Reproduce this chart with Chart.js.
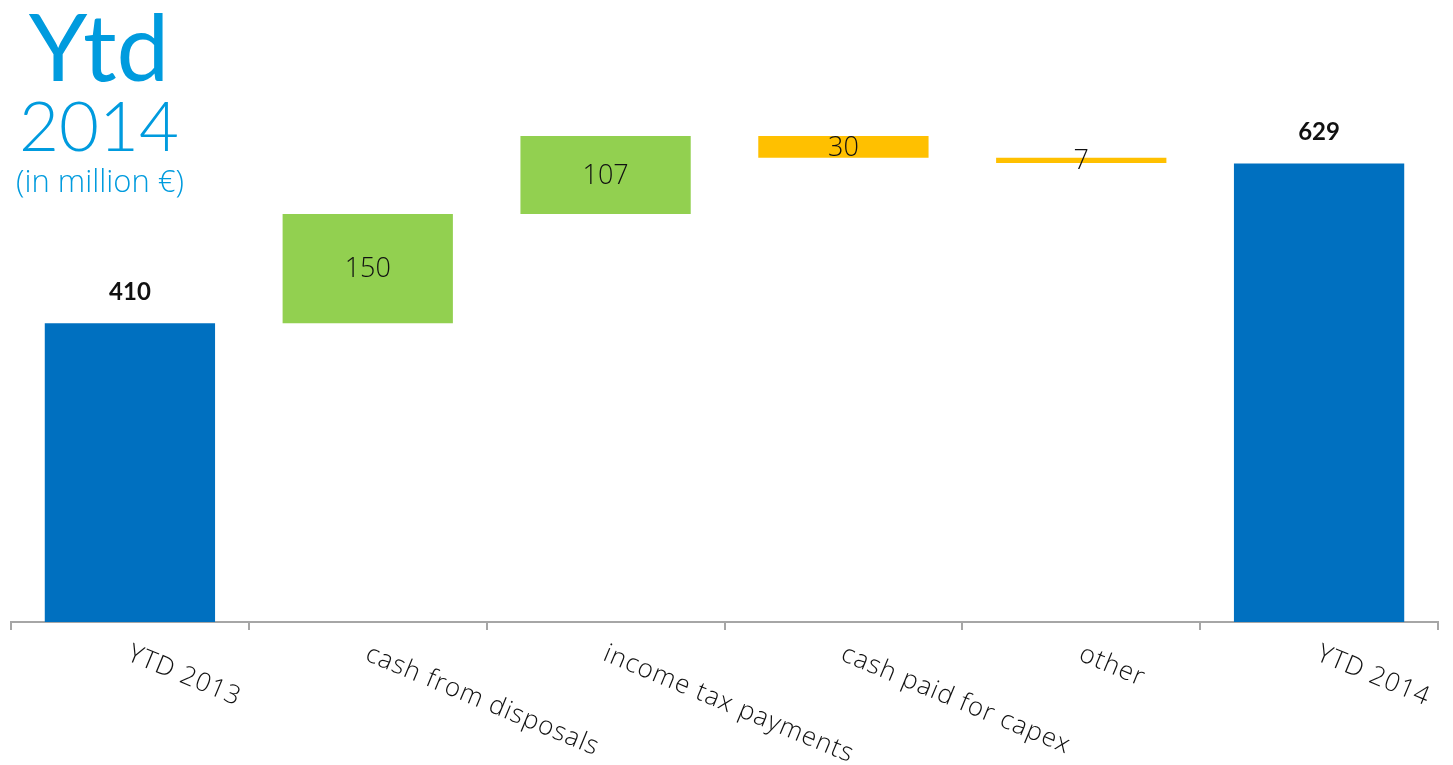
<!DOCTYPE html>
<html>
<head>
<meta charset="utf-8">
<script src="https://cdn.jsdelivr.net/npm/chart.js@4/dist/chart.umd.min.js"></script>
<style>
	html, body { margin: 0; padding: 0; background: #fff; }
	#wrap { width: 1453px; height: 765px; position: relative; }
</style>
</head>
<body>
<div id="wrap"><canvas id="chart" width="1453" height="765"></canvas></div>
<script>
// waterfall steps, in million €
const categories = ["YTD 2013", "cash from disposals", "income tax payments", "cash paid for capex", "other", "YTD 2014"];
const step_values = [410, 150, 107, -30, -7, 629];
const is_total = [true, false, false, false, false, true];
const value_labels = ["410", "150", "107", "30", "7", "629"];
const bar_colors = ["#0070C0", "#92D050", "#92D050", "#FFC000", "#FFC000", "#0070C0"];

const font_family = "Lato, 'Open Sans', sans-serif";
const label_family = "'Open Sans', Lato, sans-serif";

// build floating ranges [from, to] out of the steps
function build_ranges () {
	let list = [];
	let running = 0;
	step_values.forEach((v, i) => {
		if (is_total[i]) {
			list.push([0, v]);
			running = v;
		} else {
			list.push([running, running + v]);
			running = running + v;
		}
	});
	return list;
}

const title_plugin = {
	id: "title_block",
	afterDraw (chart) {
		let ctx = chart.ctx;
		ctx.save();
		ctx.fillStyle = "#009BDE";
		ctx.textAlign = "center";
		ctx.textBaseline = "alphabetic";
		ctx.font = "400 94px " + font_family;
		ctx.fillText("Ytd", 99, 81);
		ctx.font = "300 69px " + font_family;
		ctx.fillText("2014", 99, 151);
		ctx.font = "300 31px " + label_family;
		ctx.fillText("(in million €)", 100, 192);
		ctx.restore();
	}
};

const value_plugin = {
	id: "value_labels",
	afterDatasetsDraw (chart) {
		let ctx = chart.ctx;
		let meta = chart.getDatasetMeta(0);
		ctx.save();
		ctx.fillStyle = "#111";
		ctx.textAlign = "center";
		ctx.textBaseline = "middle";
		meta.data.forEach((bar, i) => {
			if (is_total[i]) {
				ctx.font = "700 24px " + font_family;
				ctx.fillText(value_labels[i], bar.x, Math.min(bar.y, bar.base) - 31);
			} else {
				ctx.font = "300 27px " + label_family;
				ctx.fillText(value_labels[i], bar.x, (bar.y + bar.base) / 2 + 1);
			}
		});
		ctx.restore();
	}
};

const xlabel_plugin = {
	id: "slanted_labels",
	afterDraw (chart) {
		let ctx = chart.ctx;
		let scale = chart.scales.x;
		ctx.save();
		ctx.fillStyle = "#111";
		ctx.font = "300 26px " + label_family;
		ctx.letterSpacing = "1px";
		ctx.textAlign = "left";
		ctx.textBaseline = "top";
		categories.forEach((label, i) => {
			let x = scale.getPixelForValue(i);
			ctx.save();
			ctx.translate(x + 4, scale.top + 19);
			ctx.rotate(22.5 * Math.PI / 180);
			ctx.fillText(label, 0, 0);
			ctx.restore();
		});
		ctx.restore();
	}
};

let canvas = document.getElementById("chart");
let chart = new Chart(canvas, {
	type: "bar",
	data: {
		labels: categories,
		datasets: [{
			data: build_ranges(),
			backgroundColor: bar_colors,
			borderWidth: 0,
			categoryPercentage: 1,
			barPercentage: 0.716
		}]
	},
	options: {
		responsive: false,
		animation: false,
		layout: { padding: { top: 39, left: 11, right: 15, bottom: 0 } },
		plugins: {
			legend: { display: false },
			tooltip: { enabled: false },
			title: { display: false }
		},
		scales: {
			x: {
				offset: true,
				ticks: { display: false },
				grid: {
					offset: true,
					drawOnChartArea: false,
					drawTicks: true,
					tickLength: 8,
					color: "#A6A6A6",
					lineWidth: 2
				},
				border: { display: true, color: "#A6A6A6", width: 2 },
				afterFit (scale) { scale.height = 143; }
			},
			y: {
				display: false,
				min: 0,
				max: 800
			}
		}
	},
	plugins: [title_plugin, value_plugin, xlabel_plugin]
});
</script>
</body>
</html>
